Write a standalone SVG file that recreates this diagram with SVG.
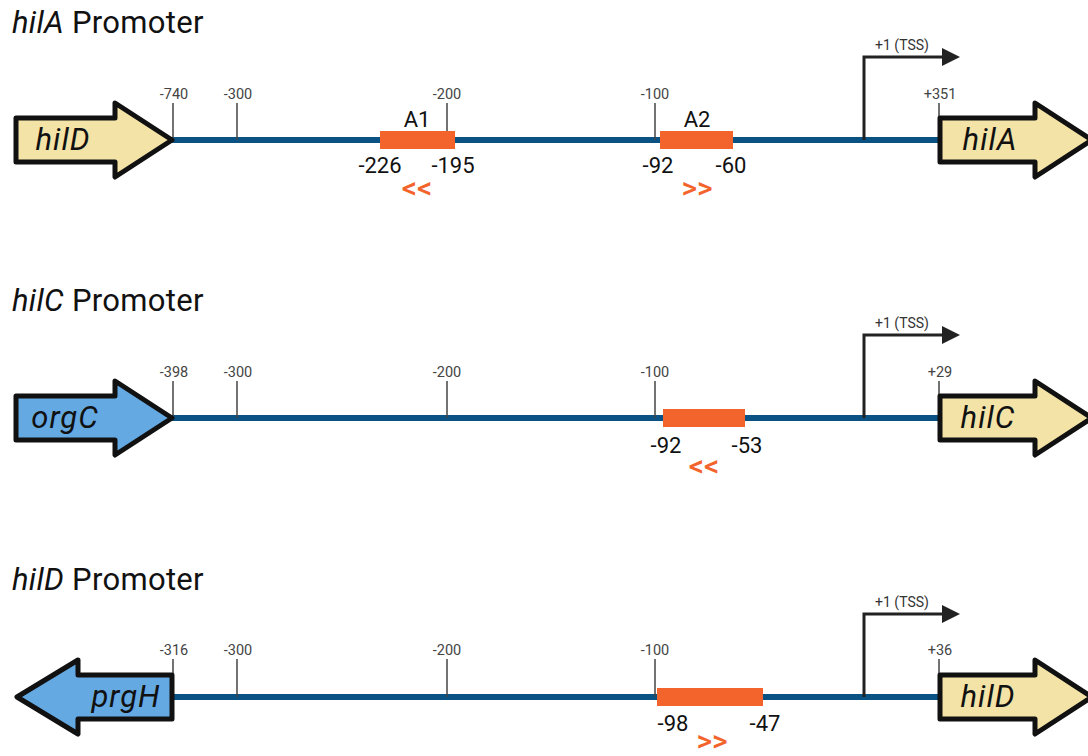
<svg xmlns="http://www.w3.org/2000/svg" width="1088" height="756" viewBox="0 0 1088 756">
  <style>
    .title { font-family: Roboto, "Liberation Sans", sans-serif; font-size: 31px; letter-spacing: 0.3px; fill: #111; }
    .gene { font-family: Roboto, "Liberation Sans", sans-serif; font-size: 31px; letter-spacing: 1px; font-style: italic; fill: #111; text-anchor: middle; }
    .yellow { fill: #f3e3a6; stroke: #111; stroke-width: 5; stroke-linejoin: round; }
    .blue { fill: #65a9e3; stroke: #111; stroke-width: 5; stroke-linejoin: round; }
    .dna { stroke: #0a5284; stroke-width: 6; fill: none; }
    .tick { stroke: #444; stroke-width: 1.5; }
    .tlabel { font-family: Roboto, "Liberation Sans", sans-serif; font-size: 14.5px; fill: #444; text-anchor: middle; }
    .tsslabel { font-family: Roboto, "Liberation Sans", sans-serif; font-size: 14px; fill: #333; text-anchor: middle; }
    .site { fill: #f3642c; }
    .pos { font-family: Roboto, "Liberation Sans", sans-serif; font-size: 22px; fill: #111; text-anchor: middle; }
    .dir { font-family: Roboto, "Liberation Sans", sans-serif; font-size: 30px; font-weight: 500; fill: #f3642c; text-anchor: middle; }
    .tss { stroke: #222; stroke-width: 3; fill: none; }
  </style>
  <defs>
    <marker id="tssHead" viewBox="0 0 10 10" refX="0" refY="5" markerWidth="6" markerHeight="6" orient="auto" markerUnits="strokeWidth">
      <path d="M0,0 L10,5 L0,10 Z" fill="#222"/>
    </marker>
  </defs>

  <!-- hilA promoter -->
  <g id="row-hilA">
    <text class="title" x="12" y="33"><tspan font-style="italic">hilA</tspan> Promoter</text>
    <g id="connectors-hilA">
      <line class="dna" x1="172" y1="140" x2="940" y2="140"/>
      <line class="tick" x1="173" y1="103" x2="173" y2="140"/>
      <line class="tick" x1="237" y1="103" x2="237" y2="140"/>
      <line class="tick" x1="447" y1="103" x2="447" y2="140"/>
      <line class="tick" x1="655" y1="103" x2="655" y2="140"/>
      <line class="tick" x1="939" y1="103" x2="939" y2="118"/>
      <path class="tss" d="M864,140 V57 H942" marker-end="url(#tssHead)"/>
    </g>
    <text class="tlabel" x="174" y="99">-740</text>
    <text class="tlabel" x="238" y="99">-300</text>
    <text class="tlabel" x="447" y="99">-200</text>
    <text class="tlabel" x="655" y="99">-100</text>
    <text class="tlabel" x="940" y="99">+351</text>
    <text class="tsslabel" x="902" y="50">+1 (TSS)</text>
    <g id="site-A1">
      <rect class="site" x="380" y="131" width="75" height="18"/>
      <text class="pos" x="417" y="127">A1</text>
      <text class="pos" x="380" y="173">-226</text>
      <text class="pos" x="453" y="173">-195</text>
      <text class="dir" x="417" y="198">&lt;&lt;</text>
    </g>
    <g id="site-A2">
      <rect class="site" x="660" y="131" width="73" height="18"/>
      <text class="pos" x="697" y="127">A2</text>
      <text class="pos" x="658" y="173">-92</text>
      <text class="pos" x="731" y="173">-60</text>
      <text class="dir" x="697" y="198">&gt;&gt;</text>
    </g>
    <g id="gene-hilD-1">
      <path class="yellow" d="M16,118 H115 V103 L172,140 L115,177 V162 H16 Z"/>
      <text class="gene" x="63" y="150">hilD</text>
    </g>
    <g id="gene-hilA">
      <path class="yellow" d="M940,118 H1035 V103 L1092,140 L1035,177 V162 H940 Z"/>
      <text class="gene" x="990" y="150">hilA</text>
    </g>
  </g>

  <!-- hilC promoter -->
  <g id="row-hilC">
    <text class="title" x="12" y="311"><tspan font-style="italic">hilC</tspan> Promoter</text>
    <g id="connectors-hilC">
      <line class="dna" x1="172" y1="418" x2="940" y2="418"/>
      <line class="tick" x1="173" y1="381" x2="173" y2="418"/>
      <line class="tick" x1="237" y1="381" x2="237" y2="418"/>
      <line class="tick" x1="447" y1="381" x2="447" y2="418"/>
      <line class="tick" x1="655" y1="381" x2="655" y2="418"/>
      <line class="tick" x1="939" y1="381" x2="939" y2="396"/>
      <path class="tss" d="M864,418 V335 H942" marker-end="url(#tssHead)"/>
    </g>
    <text class="tlabel" x="174" y="377">-398</text>
    <text class="tlabel" x="238" y="377">-300</text>
    <text class="tlabel" x="447" y="377">-200</text>
    <text class="tlabel" x="655" y="377">-100</text>
    <text class="tlabel" x="940" y="377">+29</text>
    <text class="tsslabel" x="902" y="328">+1 (TSS)</text>
    <g id="site-hilC">
      <rect class="site" x="663" y="409" width="82" height="18"/>
      <text class="pos" x="666" y="453">-92</text>
      <text class="pos" x="747" y="453">-53</text>
      <text class="dir" x="704" y="476">&lt;&lt;</text>
    </g>
    <g id="gene-orgC">
      <path class="blue" d="M16,396 H115 V381 L172,418 L115,455 V440 H16 Z"/>
      <text class="gene" x="65" y="428">orgC</text>
    </g>
    <g id="gene-hilC">
      <path class="yellow" d="M940,396 H1035 V381 L1092,418 L1035,455 V440 H940 Z"/>
      <text class="gene" x="988" y="428">hilC</text>
    </g>
  </g>

  <!-- hilD promoter -->
  <g id="row-hilD">
    <text class="title" x="12" y="590"><tspan font-style="italic">hilD</tspan> Promoter</text>
    <g id="connectors-hilD">
      <line class="dna" x1="172" y1="697" x2="940" y2="697"/>
      <line class="tick" x1="173" y1="659" x2="173" y2="676"/>
      <line class="tick" x1="237" y1="659" x2="237" y2="697"/>
      <line class="tick" x1="447" y1="659" x2="447" y2="697"/>
      <line class="tick" x1="655" y1="659" x2="655" y2="697"/>
      <line class="tick" x1="939" y1="659" x2="939" y2="675"/>
      <path class="tss" d="M864,697 V614 H942" marker-end="url(#tssHead)"/>
    </g>
    <text class="tlabel" x="174" y="655">-316</text>
    <text class="tlabel" x="238" y="655">-300</text>
    <text class="tlabel" x="447" y="655">-200</text>
    <text class="tlabel" x="655" y="655">-100</text>
    <text class="tlabel" x="940" y="655">+36</text>
    <text class="tsslabel" x="902" y="607">+1 (TSS)</text>
    <g id="site-hilD">
      <rect class="site" x="657" y="688" width="106" height="18"/>
      <text class="pos" x="673" y="731">-98</text>
      <text class="pos" x="765" y="731">-47</text>
      <text class="dir" x="712" y="751">&gt;&gt;</text>
    </g>
    <g id="gene-prgH">
      <path class="blue" d="M172,675 H78 V660 L17,697 L78,734 V719 H172 Z"/>
      <text class="gene" x="126" y="707">prgH</text>
    </g>
    <g id="gene-hilD-3">
      <path class="yellow" d="M940,675 H1035 V660 L1092,697 L1035,734 V719 H940 Z"/>
      <text class="gene" x="988" y="707">hilD</text>
    </g>
  </g>
</svg>
